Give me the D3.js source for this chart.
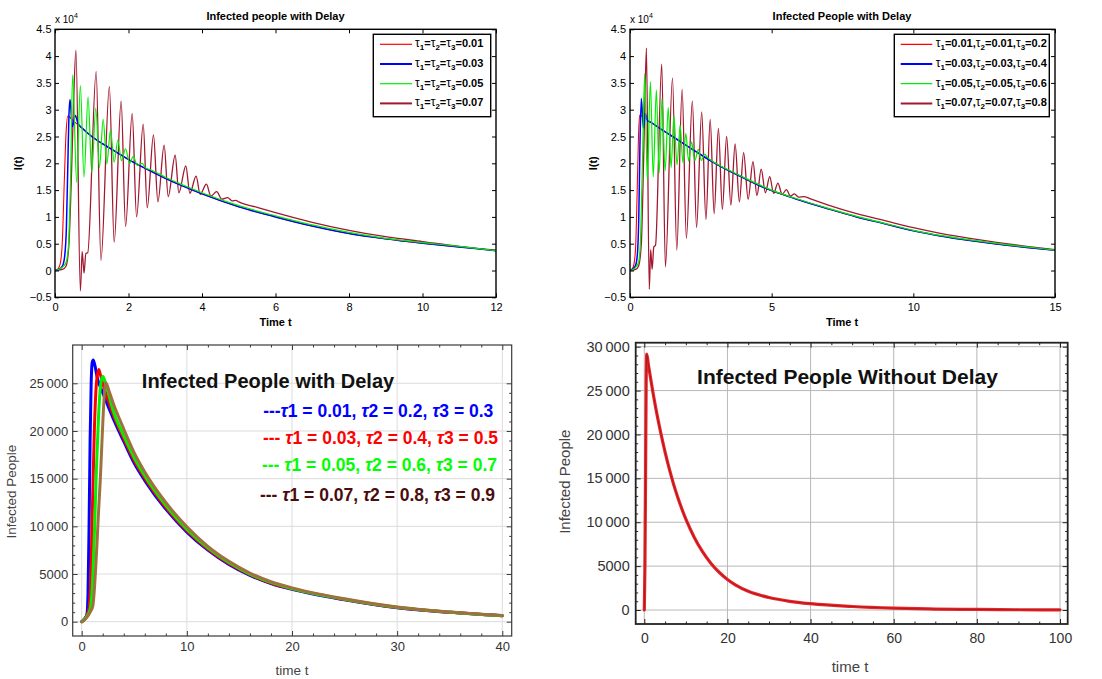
<!DOCTYPE html>
<html><head><meta charset="utf-8">
<script src="https://cdn.jsdelivr.net/npm/d3@7"></script>
<style>body{margin:0;background:#fff}svg{display:block}</style>
</head><body>
<svg id="c" width="1102" height="679"></svg>
<script>
// ---------------- DATA ----------------
const tlXTicks = [0,2,4,6,8,10,12];
const trXTicks = [0,5,10,15];
const topYTicks = [-0.5,0,0.5,1,1.5,2,2.5,3,3.5,4,4.5];
const blXTicks = [0,10,20,30,40];
const blYTicks = [0,5000,10000,15000,20000,25000];
const brXTicks = [0,20,40,60,80,100];
const brYTicks = [0,5000,10000,15000,20000,25000,30000];

const tlLegendVals = ['0.01','0.03','0.05','0.07'];
const trLegendVals = [['0.01','0.01','0.2'],['0.03','0.03','0.4'],['0.05','0.05','0.6'],['0.07','0.07','0.8']];
const blLegendVals = [['0.01','0.2','0.3'],['0.03','0.4','0.5'],['0.05','0.6','0.7'],['0.07','0.8','0.9']];

// Top-left (I(t) in units of 1e4)
const tlRedT = [0,0.05,0.1,0.15,0.2,0.25,0.3,0.35,0.5,0.75,1,1.5,2,2.5,3,3.5,4,5,6,7,8,9,10,11,12];
const tlRedV = [0,0.01,0.05,0.15,0.55,1.6,2.55,2.88,2.79,2.65,2.5,2.28,2.07,1.89,1.72,1.57,1.43,1.19,1.0,0.83,0.69,0.59,0.51,0.44,0.37];
const tlBlueT = [0,0.1,0.2,0.26,0.31,0.35,0.38,0.41,0.47,0.55,0.63,0.75,1,1.5,2,2.5,3,3.5,4,5,6,7,8,9,10,11,12];
const tlBlueV = [0,0.02,0.08,0.25,0.8,2.0,2.9,3.19,2.68,2.89,2.74,2.65,2.5,2.28,2.07,1.89,1.72,1.57,1.43,1.19,1.0,0.83,0.69,0.59,0.51,0.44,0.37];
const tlGreenT = [0,0.1,0.2,0.3,0.36,0.42,0.48,0.59,0.69,0.79,0.90,1.0,1.11,1.21,1.31,1.41,1.51,1.61,1.71,1.81,1.92,2.03,2.13,2.24,2.37,2.47,2.6,3,3.5,4,5,6,7,8,9,10,11,12];
const tlGreenV = [0,0.02,0.06,0.15,0.4,1.6,3.65,1.64,3.45,1.74,3.24,1.83,3.03,1.92,2.82,1.99,2.62,2.02,2.43,2.05,2.27,2.0,2.13,1.96,2.0,1.91,1.88,1.74,1.59,1.45,1.21,1.02,0.85,0.71,0.60,0.52,0.45,0.37];
const tlMaroonT = [0,0.2,0.3,0.38,0.44,0.5,0.57,0.69,0.74,0.79,0.84,0.89,1.12,1.25,1.48,1.61,1.80,1.92,2.10,2.22,2.40,2.51,2.68,2.80,2.97,3.08,3.27,3.37,3.56,3.67,3.84,3.95,4.12,4.24,4.40,4.54,4.70,4.82,4.92,5.0,5.5,6,7,8,9,10,11,12];
const tlMaroonV = [0,0.02,0.08,0.5,1.6,3.0,4.11,-0.38,0.35,-0.05,0.32,0.33,3.71,0.19,3.43,0.53,3.16,0.82,2.93,1.0,2.73,1.17,2.53,1.28,2.34,1.38,2.15,1.45,1.95,1.44,1.76,1.42,1.61,1.39,1.47,1.33,1.36,1.30,1.31,1.28,1.18,1.08,0.90,0.75,0.63,0.54,0.45,0.38];

// Top-right
const trRedT = [0,0.08,0.14,0.2,0.25,0.3,0.34,0.5,0.75,1,1.5,2,2.5,3,3.5,4,4.5,5,5.5,6,7,8,9,10,11,12,13,14,15];
const trRedV = [0,0.03,0.12,0.45,1.4,2.5,2.9,2.85,2.76,2.67,2.5,2.33,2.16,2.0,1.86,1.73,1.60,1.49,1.40,1.31,1.15,1.0,0.87,0.74,0.64,0.56,0.49,0.43,0.38];
const trBlueT = [0,0.1,0.2,0.26,0.31,0.35,0.4,0.47,0.54,0.62,0.75,1,1.5,2,2.5,3,3.5,4,4.5,5,5.5,6,7,8,9,10,11,12,13,14,15];
const trBlueV = [0,0.03,0.1,0.3,1.0,2.3,3.21,2.66,2.93,2.79,2.76,2.67,2.5,2.33,2.16,2.0,1.86,1.73,1.60,1.49,1.40,1.31,1.15,1.0,0.87,0.74,0.64,0.56,0.49,0.43,0.38];
const trGreenT = [0,0.1,0.2,0.3,0.36,0.43,0.52,0.61,0.72,0.82,0.93,1.03,1.13,1.24,1.35,1.45,1.55,1.66,1.77,1.87,1.97,2.07,2.17,2.29,2.41,2.52,2.63,2.75,3,3.5,4,5,6,7,8,9,10,11,12,13,14,15];
const trGreenV = [0,0.02,0.06,0.15,0.45,1.8,3.68,1.69,3.52,1.75,3.37,1.82,3.21,1.86,3.04,1.92,2.88,1.97,2.71,2.01,2.56,2.04,2.40,2.05,2.26,2.05,2.17,2.10,2.01,1.87,1.74,1.50,1.32,1.16,1.01,0.88,0.75,0.65,0.57,0.50,0.44,0.38];
const trMaroonT = [0,0.2,0.3,0.4,0.46,0.52,0.58,0.68,0.73,0.78,0.84,0.9,1.12,1.25,1.50,1.65,1.84,1.99,2.2,2.35,2.53,2.68,2.83,2.97,3.12,3.26,3.41,3.56,3.71,3.86,4.01,4.17,4.34,4.48,4.63,4.78,4.93,5.07,5.22,5.37,5.52,5.66,5.8,5.95,6.15,6.4,7,8,9,10,11,12,13,14,15];
const trMaroonV = [0,0.02,0.08,0.5,1.6,3.0,4.15,-0.35,0.39,0.02,0.44,0.47,3.85,0.07,3.59,0.38,3.38,0.6,3.16,0.8,2.96,0.95,2.82,1.06,2.65,1.14,2.50,1.22,2.36,1.28,2.20,1.33,2.03,1.40,1.89,1.45,1.75,1.44,1.63,1.42,1.51,1.39,1.43,1.37,1.38,1.33,1.22,1.06,0.93,0.80,0.69,0.60,0.52,0.45,0.39];

// Bottom-left (infected people)
const blBlueT = [0,0.3,0.5,0.6,0.7,0.8,0.9,1.0,1.1,1.25,1.5,2,3,4,5,6,8,10,12,14,16,18,20,25,30,35,40];
const blBlueV = [0,350,800,3000,10000,19000,25000,27200,27450,26900,25500,24000,21300,18900,16600,14800,11800,9400,7500,6000,4850,4000,3390,2300,1470,980,630];
const blRedT = [0,0.3,0.5,0.7,0.85,1.0,1.2,1.4,1.62,1.8,2,2.5,3,4,5,6,8,10,12,14,16,18,20,25,30,35,40];
const blRedV = [0,300,700,1500,4000,11000,20000,25000,26450,25800,25000,23300,21700,19200,16900,15050,12000,9550,7620,6100,4930,4060,3440,2330,1490,990,635];
const blGreenT = [0,0.3,0.5,0.8,1.0,1.2,1.4,1.6,1.8,2.0,2.3,3,4,5,6,8,10,12,14,16,18,20,25,30,35,40];
const blGreenV = [0,300,600,1300,3500,9000,16000,21500,24800,25750,24900,22100,19500,17200,15300,12200,9700,7740,6200,5000,4120,3480,2360,1510,1000,640];
const blBrownT = [0,0.5,0.9,1.05,1.7,2.3,2.6,3,4,5,6,8,10,12,14,16,18,20,25,30,35,40];
const blBrownV = [0,450,1200,1600,13500,25050,24200,22900,20200,17700,15700,12500,9950,7900,6330,5100,4200,3550,2400,1540,1020,650];

// Bottom-right (without delay)
const brT = [0,0.15,0.3,0.45,0.6,1,2,3,4,5,6,7,8,10,12,14,16,18,20,22,25,30,35,40,50,60,70,80,90,100];
const brV = [0,5000,15000,26000,29150,27900,25000,22400,20100,18000,16100,14400,12900,10350,8300,6650,5340,4300,3480,2840,2130,1420,990,720,400,210,110,60,30,15];

// ---------------- DRAW ----------------
const FONT = '"Liberation Sans", Arial, Helvetica, sans-serif';
const svg = d3.select('#c');
const defs = svg.append('defs');
const line = (x,y,curve) => d3.line().x(d=>x(d[0])).y(d=>y(d[1])).curve(curve||d3.curveMonotoneX);
const fmtMat = v => v < 0 ? '\u2212' + Math.abs(v) : String(v);
const fmtMma = v => v >= 10000 ? String(Math.floor(v/1000)) + '\u2009' + String(v%1000).padStart(3,'0') : String(v);

function addClip(id, F){
  defs.append('clipPath').attr('id', id).append('rect')
    .attr('x', F.l).attr('y', F.t).attr('width', F.r - F.l).attr('height', F.b - F.t);
}

function matlabPanel(c){
  const F = c.frame;
  const x = d3.scaleLinear().domain([c.xTicks[0], c.xTicks[c.xTicks.length-1]]).range([F.l, F.r]);
  const y = d3.scaleLinear().domain([topYTicks[0], topYTicks[topYTicks.length-1]]).range([F.b, F.t]);
  const g = svg.append('g');
  addClip('clip'+c.id, F);
  const sg = g.append('g').attr('clip-path', `url(#clip${c.id})`);
  const ln = line(x,y);
  c.series.forEach(s => sg.append('path').datum(d3.zip(s.t, s.v)).attr('d', ln)
    .attr('fill','none').attr('stroke', s.color).attr('stroke-width', s.w).attr('stroke-linejoin','round'));
  const style = sel => { sel.select('.domain').remove(); sel.selectAll('line').attr('stroke','#000').attr('stroke-width',1);
    sel.selectAll('text').attr('font-family', FONT).attr('font-size', 11).attr('fill', '#000'); };
  g.append('g').attr('transform',`translate(0,${F.b})`).call(d3.axisBottom(x).tickValues(c.xTicks).tickSize(-4).tickPadding(6).tickFormat(d=>d)).call(style);
  g.append('g').attr('transform',`translate(0,${F.t})`).call(d3.axisTop(x).tickValues(c.xTicks).tickSize(-4).tickFormat('')).call(style);
  g.append('g').attr('transform',`translate(${F.l},0)`).call(d3.axisLeft(y).tickValues(topYTicks).tickSize(-4).tickPadding(c.yPad).tickFormat(fmtMat)).call(style);
  g.append('g').attr('transform',`translate(${F.r},0)`).call(d3.axisRight(y).tickValues(topYTicks).tickSize(-4).tickFormat('')).call(style);
  g.append('rect').attr('x',F.l).attr('y',F.t).attr('width',F.r-F.l).attr('height',F.b-F.t)
    .attr('fill','none').attr('stroke','#000').attr('stroke-width',1.4);
  // exponent
  const ex = g.append('text').attr('x', F.l).attr('y', F.t - 6).attr('font-family', FONT).attr('font-size', 10).attr('fill','#000');
  ex.append('tspan').text('x 10');
  ex.append('tspan').attr('dy', -5).attr('font-size', 7).text('4');
  // title & labels
  g.append('text').attr('x', c.titleX).attr('y', 19.5).attr('text-anchor','middle').attr('font-family',FONT)
    .attr('font-size',11).attr('font-weight','bold').text(c.title);
  g.append('text').attr('x', c.titleX).attr('y', 325.5).attr('text-anchor','middle').attr('font-family',FONT)
    .attr('font-size',11).attr('font-weight','bold').text('Time t');
  g.append('text').attr('transform',`translate(${c.yLabX},${(F.t+F.b)/2}) rotate(-90)`).attr('text-anchor','middle')
    .attr('font-family',FONT).attr('font-size',11).attr('font-weight','bold').text('I(t)');
  // legend
  const L = c.legend;
  g.append('rect').attr('x',L.x0).attr('y',L.y0).attr('width',L.x1-L.x0).attr('height',L.y1-L.y0)
    .attr('fill','#fff').attr('stroke','#000').attr('stroke-width',1.4);
  c.series.slice().sort((a,b)=>a.li-b.li).forEach((s,i) => {
    const cy = L.y0 + 10 + i*19.7;
    g.append('line').attr('x1',L.lx0).attr('x2',L.lx1).attr('y1',cy).attr('y2',cy)
      .attr('stroke', s.color).attr('stroke-width', s.lw);
    const t = g.append('text').attr('x', L.tx).attr('y', cy + 3).attr('font-family',FONT)
      .attr('font-size',11).attr('font-weight','bold').attr('fill','#000');
    c.legendParts[i].forEach((p,k) => {
      t.append('tspan').attr('font-weight','normal').attr('font-size',12).text('\u03c4');
      t.append('tspan').attr('font-size',8).attr('dy',3).text(String(k+1));
      t.append('tspan').attr('dy',-3).text(p);
    });
  });
}

// ---- Top-left
matlabPanel({
  id:'tl', frame:{l:55,r:496,t:29.3,b:297.3}, xTicks: tlXTicks, yPad:3.5,
  title:'Infected people with Delay', titleX:275.5, yLabX:22,
  series:[
    {t:tlMaroonT, v:tlMaroonV, color:'#a3182f', w:1.3, lw:2, li:3},
    {t:tlRedT, v:tlRedV, color:'#ff0000', w:1.1, lw:1.2, li:0},
    {t:tlBlueT, v:tlBlueV, color:'#0000ff', w:1.5, lw:2, li:1},
    {t:tlGreenT, v:tlGreenV, color:'#00ee00', w:1.2, lw:1.2, li:2}
  ],
  legend:{x0:373.3,x1:490.7,y0:34.3,y1:116.7,lx0:380,lx1:412,tx:415},
  legendParts: tlLegendVals.map(v => ['=','=','='+v])
});

// ---- Top-right
matlabPanel({
  id:'tr', frame:{l:630,r:1055,t:29.3,b:297.3}, xTicks: trXTicks, yPad:4,
  title:'Infected People with Delay', titleX:842, yLabX:597,
  series:[
    {t:trMaroonT, v:trMaroonV, color:'#a3182f', w:1.3, lw:2, li:3},
    {t:trRedT, v:trRedV, color:'#ff0000', w:1.1, lw:1.2, li:0},
    {t:trBlueT, v:trBlueV, color:'#0000ff', w:1.5, lw:2, li:1},
    {t:trGreenT, v:trGreenV, color:'#00ee00', w:1.2, lw:1.2, li:2}
  ],
  legend:{x0:894.3,x1:1049.3,y0:34.3,y1:116.7,lx0:900.7,lx1:932.3,tx:935.7},
  legendParts: trLegendVals.map(a => ['='+a[0]+',', '='+a[1]+',', '='+a[2]])
});

function mmaPanel(c){
  const F = c.frame;
  const x = d3.scaleLinear().domain(c.xDom).range(c.xRange);
  const y = d3.scaleLinear().domain(c.yDom).range(c.yRange);
  const g = svg.append('g');
  addClip('clip'+c.id, F);
  // grid
  g.append('g').selectAll('line').data(c.xTicks).join('line')
    .attr('x1',d=>x(d)).attr('x2',d=>x(d)).attr('y1',F.t).attr('y2',F.b)
    .attr('stroke',c.grid).attr('stroke-width',1);
  g.append('g').selectAll('line').data(c.yTicks).join('line')
    .attr('y1',d=>y(d)).attr('y2',d=>y(d)).attr('x1',F.l).attr('x2',F.r)
    .attr('stroke',c.grid).attr('stroke-width',1);
  const sg = g.append('g').attr('clip-path', `url(#clip${c.id})`);
  const ln = line(x,y);
  c.series.forEach(s => sg.append('path').datum(d3.zip(s.t, s.v)).attr('d', ln)
    .attr('fill','none').attr('stroke', s.color).attr('stroke-width', s.w)
    .attr('stroke-linejoin','round').attr('stroke-linecap','round'));
  const style = fs => sel => { sel.select('.domain').remove(); sel.selectAll('line').attr('stroke',c.frameColor).attr('stroke-width',1);
    sel.selectAll('text').attr('font-family', FONT).attr('font-size', fs).attr('fill', c.textColor); };
  const xMinor = d3.range(c.xDom[0], c.xDom[1] + 1e-9, c.xMinorStep).filter(v => !c.xTicks.includes(v));
  const yMinor = d3.range(c.yDom[0], c.yDom[1] + 1e-9, c.yMinorStep).filter(v => !c.yTicks.includes(v));
  g.append('g').attr('transform',`translate(0,${F.b})`).call(d3.axisBottom(x).tickValues(c.xTicks).tickSize(-5).tickPadding(c.xPad).tickFormat(d=>d)).call(style(c.xfs));
  g.append('g').attr('transform',`translate(0,${F.b})`).call(d3.axisBottom(x).tickValues(xMinor).tickSize(-2.5).tickFormat('')).call(style(c.xfs));
  g.append('g').attr('transform',`translate(0,${F.t})`).call(d3.axisTop(x).tickValues(c.xTicks).tickSize(-5).tickFormat('')).call(style(c.xfs));
  g.append('g').attr('transform',`translate(0,${F.t})`).call(d3.axisTop(x).tickValues(xMinor).tickSize(-2.5).tickFormat('')).call(style(c.xfs));
  g.append('g').attr('transform',`translate(${F.l},0)`).call(d3.axisLeft(y).tickValues(c.yTicks).tickSize(-5).tickPadding(c.yPad).tickFormat(fmtMma)).call(style(c.yfs));
  g.append('g').attr('transform',`translate(${F.l},0)`).call(d3.axisLeft(y).tickValues(yMinor).tickSize(-2.5).tickFormat('')).call(style(c.yfs));
  g.append('g').attr('transform',`translate(${F.r},0)`).call(d3.axisRight(y).tickValues(c.yTicks).tickSize(-5).tickFormat('')).call(style(c.yfs));
  g.append('g').attr('transform',`translate(${F.r},0)`).call(d3.axisRight(y).tickValues(yMinor).tickSize(-2.5).tickFormat('')).call(style(c.yfs));
  g.append('rect').attr('x',F.l).attr('y',F.t).attr('width',F.r-F.l).attr('height',F.b-F.t)
    .attr('fill','none').attr('stroke',c.frameColor).attr('stroke-width',c.frameW);
  g.append('text').attr('x', c.xLab[0]).attr('y', c.xLab[1]).attr('text-anchor','middle').attr('font-family',FONT)
    .attr('font-size',c.labfs).attr('fill',c.labColor).text('time t');
  g.append('text').attr('transform',`translate(${c.yLab[0]},${c.yLab[1]}) rotate(-90)`).attr('text-anchor','middle')
    .attr('font-family',FONT).attr('font-size',c.labfs).attr('fill',c.labColor).text('Infected People');
  g.append('text').attr('x', c.title[0]).attr('y', c.title[1]).attr('text-anchor','middle').attr('font-family',FONT)
    .attr('font-size',c.title[2]).attr('font-weight','bold').attr('fill','#111').text(c.title[3]);
  return g;
}

// ---- Bottom-left
const gbl = mmaPanel({
  id:'bl', frame:{l:72.7,r:511.7,t:345,b:636},
  xDom:[0,40], xRange:[81.7,502.3], yDom:[0,25000], yRange:[621.7,383.3],
  xTicks: blXTicks, yTicks: blYTicks, xMinorStep:2, yMinorStep:1000,
  grid:'#dcdcdc', frameColor:'#3a3a3a', frameW:1.2, textColor:'#333', xfs:13, yfs:13, xPad:6, yPad:4.5,
  labfs:13.5, labColor:'#444', xLab:[292,675], yLab:[16,491.7],
  title:[268,388.3,20,'Infected People with Delay'],
  series:[
    {t:blBlueT, v:blBlueV, color:'#0000ff', w:3},
    {t:blRedT, v:blRedV, color:'#ff0000', w:3},
    {t:blGreenT, v:blGreenV, color:'#00f000', w:3},
    {t:blBrownT, v:blBrownV, color:'#a0703e', w:3}
  ]
});
const blLegColors = ['#0000ff','#ff0000','#00ff00','#4a0c0c'];
const blLegX = [493.3, 498, 497, 495];
const blLegY = [417, 443.5, 470.5, 500.5];
blLegendVals.forEach((a,i) => {
  const t = gbl.append('text').attr('x', blLegX[i]).attr('y', blLegY[i]).attr('text-anchor','end')
    .attr('font-family',FONT).attr('font-size',17.5).attr('font-weight','bold').attr('fill', blLegColors[i]);
  t.append('tspan').text(i===0 ? '---' : '--- ');
  a.forEach((v,k) => {
    t.append('tspan').attr('font-style','italic').text('\u03c4');
    t.append('tspan').text((k+1) + ' = ' + v + (k<2 ? ', ' : ''));
  });
});

// ---- Bottom-right
mmaPanel({
  id:'br', frame:{l:635.7,r:1067.7,t:342.7,b:624},
  xDom:[0,100], xRange:[644.3,1060], yDom:[0,30000], yRange:[610,346.7],
  xTicks: brXTicks, yTicks: brYTicks, xMinorStep:5, yMinorStep:1000,
  grid:'#b8b8b8', frameColor:'#222', frameW:1.8, textColor:'#333', xfs:14, yfs:14.5, xPad:9, yPad:6,
  labfs:15, labColor:'#444', xLab:[850,671.5], yLab:[570,481.7],
  title:[847.5,384,21,'Infected People Without Delay'],
  series:[
    {t:brT, v:brV, color:'#e8262b', w:3.2},
    {t:brT, v:brV, color:'#b01818', w:1}
  ]
});
</script>
</body></html>
